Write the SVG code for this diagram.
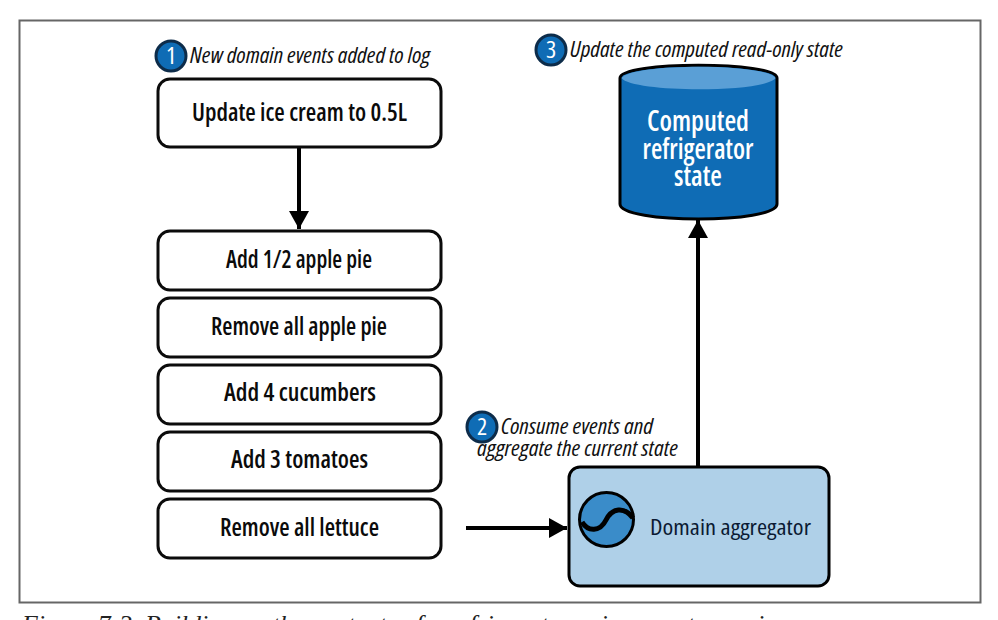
<svg xmlns="http://www.w3.org/2000/svg" width="998" height="620" viewBox="0 0 998 620">
<style>
.ev{fill:#fff;stroke:#0b0b0b;stroke-width:3}
.lb{font-family:"Open Sans","Noto Sans",sans-serif;font-size:25px;font-stretch:condensed;font-weight:600;fill:#0b0b0b;text-anchor:middle}
.st{font-family:"Open Sans","Noto Sans",sans-serif;font-size:29px;font-stretch:condensed;font-weight:600;fill:#fff;text-anchor:middle}
.note{font-family:"Open Sans","Noto Sans",sans-serif;font-size:21px;font-stretch:condensed;font-style:italic;fill:#111}
.bd{fill:#0f6cb5;stroke:#0d2c4a;stroke-width:3}
.bn{font-family:"Open Sans",sans-serif;font-size:24px;font-stretch:condensed;fill:#fff;text-anchor:middle}
.ln{fill:none;stroke:#000;stroke-width:4}
</style>
<defs><marker id="a" markerUnits="userSpaceOnUse" markerWidth="20" markerHeight="20" refX="19" refY="10" orient="auto"><path d="M1 0L19 10L1 20Z" fill="#000"/></marker></defs>
<rect width="998" height="620" fill="#fff"/>
<rect x="19.500" y="20.500" width="961" height="582" fill="#fff" stroke="#666" stroke-width="2"/>
<g id="connectors">
<path class="ln" d="M299 148V229" marker-end="url(#a)"/>
<path class="ln" d="M466 528H567" marker-end="url(#a)"/>
<path class="ln" d="M698 467V220" marker-end="url(#a)"/>
</g>
<g id="note1"><circle class="bd" cx="171" cy="56" r="15"/><text class="bn" x="171" y="64">1</text><text class="note" x="190" y="63" textLength="240" lengthAdjust="spacingAndGlyphs">New domain events added to log</text></g>
<g id="e1"><rect class="ev" x="158" y="79" width="283" height="68" rx="12"/><text class="lb" x="299.500" y="121" textLength="215" lengthAdjust="spacingAndGlyphs">Update ice cream to 0.5L</text></g>
<g id="e2"><rect class="ev" x="158" y="231" width="283" height="59" rx="12"/><text class="lb" x="299" y="268" textLength="146" lengthAdjust="spacingAndGlyphs">Add 1/2 apple pie</text></g>
<g id="e3"><rect class="ev" x="158" y="298" width="283" height="59" rx="12"/><text class="lb" x="299" y="335" textLength="176" lengthAdjust="spacingAndGlyphs">Remove all apple pie</text></g>
<g id="e4"><rect class="ev" x="158" y="365" width="283" height="59" rx="12"/><text class="lb" x="300" y="401" textLength="152" lengthAdjust="spacingAndGlyphs">Add 4 cucumbers</text></g>
<g id="e5"><rect class="ev" x="158" y="432" width="283" height="59" rx="12"/><text class="lb" x="299.500" y="468" textLength="137" lengthAdjust="spacingAndGlyphs">Add 3 tomatoes</text></g>
<g id="e6"><rect class="ev" x="158" y="499" width="283" height="59" rx="12"/><text class="lb" x="299.500" y="536" textLength="159" lengthAdjust="spacingAndGlyphs">Remove all lettuce</text></g>
<g id="note3"><circle class="bd" cx="551" cy="50" r="15"/><text class="bn" x="551" y="58">3</text><text class="note" x="570" y="57" textLength="273" lengthAdjust="spacingAndGlyphs">Update the computed read-only state</text></g>
<g id="store"><path d="M620 78C620 61 777 61 777 78V204C777 224 620 224 620 204Z" fill="#0f6cb5" stroke="#000" stroke-width="3"/><path d="M621.500 78C632 93 766 93 775.500 78C766 63 632 63 621.500 78Z" fill="#5a9fd6"/><text class="st" x="698" y="131" textLength="102" lengthAdjust="spacingAndGlyphs">Computed</text><text class="st" x="698" y="158.500" textLength="111" lengthAdjust="spacingAndGlyphs">refrigerator</text><text class="st" x="698" y="185.500" textLength="48" lengthAdjust="spacingAndGlyphs">state</text></g>
<g id="note2"><text class="note" x="501" y="434" textLength="152" lengthAdjust="spacingAndGlyphs">Consume events and</text><text class="note" x="477" y="456" textLength="201" lengthAdjust="spacingAndGlyphs">aggregate the current state</text><circle class="bd" cx="482" cy="427" r="15"/><text class="bn" x="482" y="435">2</text></g>
<g id="agg"><rect x="569" y="467" width="260" height="119" rx="11" fill="#afd0e8" stroke="#000" stroke-width="3"/><circle cx="606.500" cy="519.500" r="27" fill="#3a8cc9" stroke="#000" stroke-width="3"/><path d="M582 522C588 532 600 532 606 520S624 506 633 518" fill="none" stroke="#000" stroke-width="5"/><text x="650" y="535" textLength="161" lengthAdjust="spacingAndGlyphs" style="font-family:'Open Sans',sans-serif;font-size:22px;font-stretch:condensed;fill:#0b1a33">Domain aggregator</text></g>
<text x="22" y="633" style="font-family:'Liberation Serif',serif;font-size:25.800px;font-style:italic;fill:#222">Figure 7-3. Building up the contents of a refrigerator using event sourcing</text>
</svg>
